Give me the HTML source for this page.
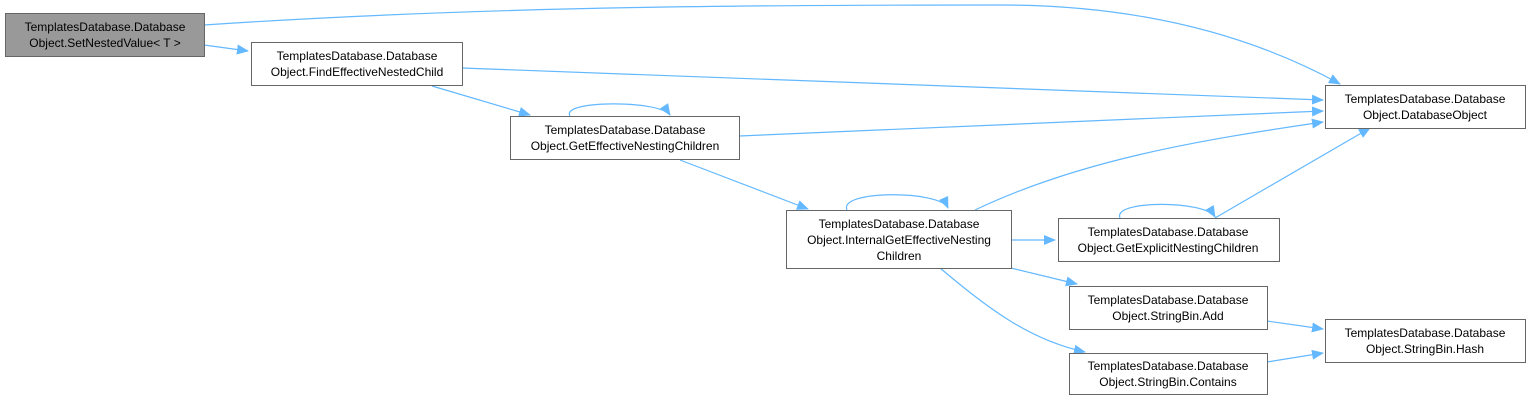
<!DOCTYPE html>
<html><head><meta charset="utf-8"><style>
html,body{margin:0;padding:0;background:#fff;}
svg{display:block;}
text{font-family:"Liberation Sans",Arial,sans-serif;font-size:12px;fill:#000;}
</style></head><body>
<svg width="1529" height="400" viewBox="0 0 1529 400" xmlns="http://www.w3.org/2000/svg">
<defs><marker id="a" markerWidth="12" markerHeight="10" refX="11" refY="5" orient="auto" markerUnits="userSpaceOnUse"><path d="M0,0 L12,5 L0,10 z" fill="#63b8ff"/></marker></defs>
<g fill="none" stroke="#63b8ff" stroke-width="1.2" marker-end="url(#a)">
<path d="M204,25 C500,5 800,5 1000,5 C1150,5 1260,40 1340,84"/>
<path d="M204,45 L248,51"/>
<path d="M462,68 L1323,100"/>
<path d="M432,86 L530,115"/>
<path d="M570,116 C560,100 660,100 670,115"/>
<path d="M739,136 L1323,111"/>
<path d="M680,160 L808,209"/>
<path d="M847,210 C838,190 940,190 948,208"/>
<path d="M975,210 C1080,160 1200,140 1323,122"/>
<path d="M1011,240 L1055,240"/>
<path d="M1120,218 C1112,200 1205,200 1215,217"/>
<path d="M1215,218 L1370,128"/>
<path d="M1011,268 L1077,284"/>
<path d="M940,268 C990,310 1030,340 1085,352"/>
<path d="M1267,321 L1323,329"/>
<path d="M1267,362 L1323,353"/>
</g>
<g stroke-width="1">
<rect x="5.5" y="13.5" width="199" height="43" fill="#999" stroke="#666"/>
<rect x="251.5" y="42.5" width="211" height="43" fill="#fff" stroke="#666"/>
<rect x="510.5" y="116.5" width="229" height="43" fill="#fff" stroke="#666"/>
<rect x="786.5" y="210.5" width="225" height="58" fill="#fff" stroke="#666"/>
<rect x="1325.5" y="85.5" width="200" height="43" fill="#fff" stroke="#666"/>
<rect x="1058.5" y="218.5" width="221" height="43" fill="#fff" stroke="#666"/>
<rect x="1069.5" y="286.5" width="198" height="43" fill="#fff" stroke="#666"/>
<rect x="1069.5" y="353.5" width="198" height="41" fill="#fff" stroke="#666"/>
<rect x="1325.5" y="319.5" width="200" height="43" fill="#fff" stroke="#666"/>
</g>
<g text-anchor="middle">
<text x="105" y="31">TemplatesDatabase.Database</text><text x="105" y="47">Object.SetNestedValue&lt; T &gt;</text>
<text x="357" y="60">TemplatesDatabase.Database</text><text x="357" y="76">Object.FindEffectiveNestedChild</text>
<text x="625" y="134">TemplatesDatabase.Database</text><text x="625" y="150">Object.GetEffectiveNestingChildren</text>
<text x="899" y="228">TemplatesDatabase.Database</text><text x="899" y="244">Object.InternalGetEffectiveNesting</text><text x="899" y="260">Children</text>
<text x="1425" y="103">TemplatesDatabase.Database</text><text x="1425" y="119">Object.DatabaseObject</text>
<text x="1168" y="236">TemplatesDatabase.Database</text><text x="1168" y="252">Object.GetExplicitNestingChildren</text>
<text x="1168" y="304">TemplatesDatabase.Database</text><text x="1168" y="320">Object.StringBin.Add</text>
<text x="1168" y="370">TemplatesDatabase.Database</text><text x="1168" y="386">Object.StringBin.Contains</text>
<text x="1425" y="337">TemplatesDatabase.Database</text><text x="1425" y="353">Object.StringBin.Hash</text>
</g>
</svg>
</body></html>
